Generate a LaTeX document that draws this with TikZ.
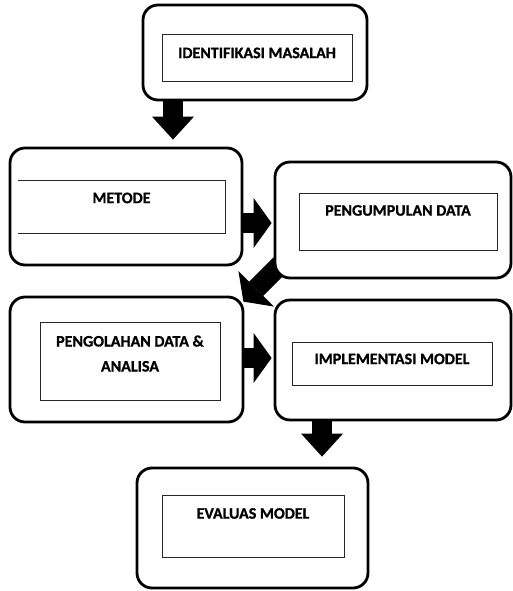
\documentclass[tikz,border=0pt]{standalone}
\usepackage{fontspec}
\setmainfont{Carlito}[BoldFeatures={FakeBold=1}]
\usetikzlibrary{arrows.meta,backgrounds}
\tikzset{
  kotak/.style={draw=black, line width=2.8pt, rounded corners=15pt, fill=white},
  isian/.style={draw=black!85, line width=1pt, fill=white, align=center,
                font=\fontsize{16}{25}\selectfont\bfseries, inner sep=2pt, text height=11pt},
  panahturun/.style={line width=20pt, -{Triangle[length=23pt, width=42pt, line width=0pt]}},
  panahsamping/.style={line width=20pt, -{Triangle[length=18pt, width=50pt, line width=0pt]}},
}

\begin{document}
\begin{tikzpicture}[x=1pt, y=-1pt]
  \useasboundingbox (0,0) rectangle (513,591);

  % kotak luar
  \node[kotak, minimum width=224pt, minimum height=95pt]  (identifikasi) at (255,52.5)  {};
  \node[kotak, minimum width=232pt, minimum height=117pt] (metode)       at (126,206.5) {};
  \node[kotak, minimum width=236pt, minimum height=116pt] (pengumpulan)  at (393,220)   {};
  \node[kotak, minimum width=233pt, minimum height=125pt] (pengolahan)   at (126.5,359.5) {};
  \node[kotak, minimum width=236pt, minimum height=120pt] (implementasi) at (393,360)   {};
  \node[kotak, minimum width=231pt, minimum height=120pt] (evaluasi)     at (252.5,528) {};

  % kotak isian dengan teks
  \node[isian, minimum width=190pt, minimum height=47pt, text depth=11.7pt] (identifikasiisi) at (257,58.5) {IDENTIFIKASI MASALAH};
  \node[isian, draw=none, minimum width=207pt, minimum height=52pt, text depth=18.7pt] (metodeisi) at (121.5,207) {METODE};
  \node[isian, minimum width=198pt, minimum height=57pt, text depth=22.7pt] (pengumpulanisi) at (398,221.5) {PENGUMPULAN DATA};
  \node[isian, minimum width=180pt, minimum height=78pt, text height=22pt, text depth=1pt] (pengolahanisi) at (130,361) {PENGOLAHAN DATA \&\\ANALISA};
  \node[isian, minimum width=200pt, minimum height=43pt, text depth=9.7pt] (implementasiisi) at (392,363.5) {IMPLEMENTASI MODEL};
  \node[isian, minimum width=182pt, minimum height=62pt, text depth=25.7pt] (evaluasiisi) at (253,526) {EVALUAS MODEL};

  \draw[line width=1pt, black!85] (metodeisi.north west) -- (metodeisi.north east)
    -- (metodeisi.south east) -- (metodeisi.south west);

  % panah blok
  \begin{scope}[on background layer]
    \draw[panahturun, shorten >=7pt] ([xshift=-82pt]identifikasi.south) -- ([xshift=47pt]metode.north);
    \draw[panahsamping, shorten >=2pt] ([yshift=-16.5pt]metode.east) -- ([yshift=-3pt]pengumpulan.west);
    \draw[panahsamping] ([xshift=7pt,yshift=15pt]pengumpulan.south west) -- ([xshift=-1pt,yshift=-6pt]pengolahan.north east);
    \draw[panahsamping, shorten >=2pt] ([yshift=1.5pt]pengolahan.east) -- ([yshift=2pt]implementasi.west);
    \draw[panahturun, shorten >=10pt] ([xshift=-71pt]implementasi.south) -- ([xshift=69.5pt]evaluasi.north);
  \end{scope}

\end{tikzpicture}
\end{document}
